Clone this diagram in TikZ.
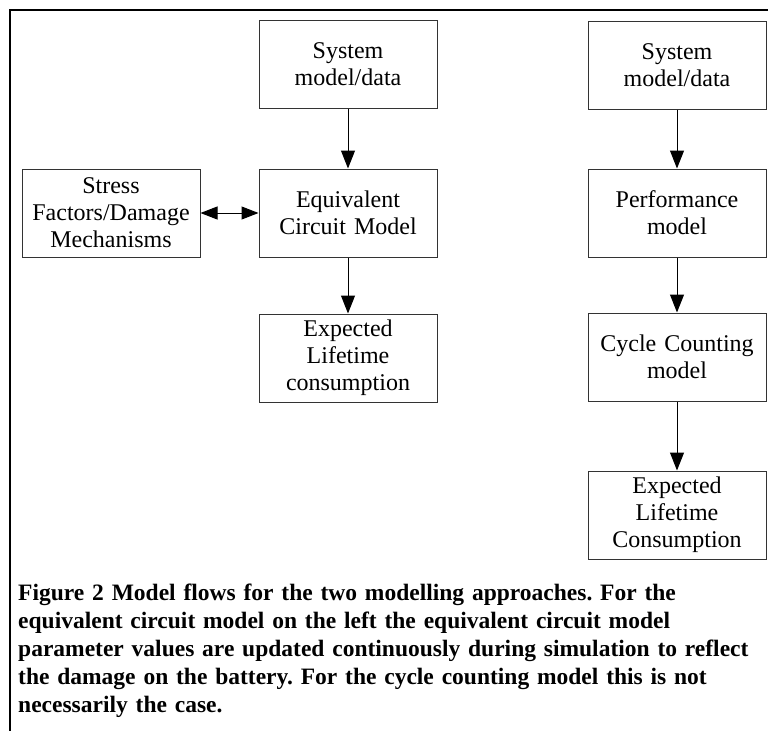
\documentclass[tikz,border=0pt]{standalone}
\usepackage{fontspec}
\setmainfont{Liberation Serif}
\usepackage{tikz}
\usetikzlibrary{arrows.meta,positioning}
\frenchspacing

\begin{document}
\begin{tikzpicture}[
        font=\fontsize{24pt}{27pt}\selectfont,
        node distance=60pt,
        box/.style={
            rectangle,
            draw=black!80,
            line width=1pt,
            minimum width=178pt,
            minimum height=88pt,
            text width=172pt,
            align=center,
            inner sep=2pt
        },
        arrow/.style={
            -{Triangle[length=18pt,width=14pt]},
            draw=black,
            line width=1pt
        },
        twoway/.style={
            {Triangle[length=17pt,width=13pt]}-{Triangle[length=17pt,width=13pt]},
            draw=black,
            line width=1pt
        },
        frame/.style={
            line width=2pt
        }
    ]
    \useasboundingbox (0,0) rectangle (768pt,-731pt);
    % Frame
    \coordinate (tl) at (10pt,-10pt);
    \coordinate (tr) at (768pt,-10pt);
    \coordinate (bl) at (10pt,-731pt);
    \draw[frame] (tr) -- (tl) -- (bl);
    % Equivalent circuit approach
    \node[box] (sys_ecm) at (348pt,-64pt) {System\\model/data};
    \node[box, below=60pt of sys_ecm] (ecm) {Equivalent\\Circuit Model};
    \node[box, left=58pt of ecm] (stress) {Stress\\Factors/Damage\\Mechanisms};
    \node[box, below=56pt of ecm] (life_ecm) {Expected\\Lifetime\\consumption};
    % Connections
    \draw[arrow] (sys_ecm) -- (ecm);
    \draw[twoway] (stress) -- (ecm);
    \draw[arrow] (ecm) -- (life_ecm);
    % Cycle counting approach
    \node[box, right=150pt of ecm] (perf) {Performance\\model};
    \node[box, above=59pt of perf] (sys_cc) {System\\model/data};
    \node[box, below=55pt of perf] (cyc) {Cycle Counting\\model};
    \node[box, below=69pt of cyc] (life_cc) {Expected\\Lifetime\\Consumption};
    % Connections
    \draw[arrow] (sys_cc) -- (perf);
    \draw[arrow] (perf) -- (cyc);
    \draw[arrow] (cyc) -- (life_cc);
    % Caption
    \node[anchor=north west, inner sep=0pt, text width=750pt, align=left,
          font=\fontsize{23.5pt}{28pt}\selectfont\bfseries] (caption) at (18pt,-584pt)
        {Figure 2 Model flows for the two modelling approaches. For the\\
         equivalent circuit model on the left the equivalent circuit model\\
         parameter values are updated continuously during simulation to reflect\\
         the damage on the battery. For the cycle counting model this is not\\
         necessarily the case.};
\end{tikzpicture}
\end{document}
